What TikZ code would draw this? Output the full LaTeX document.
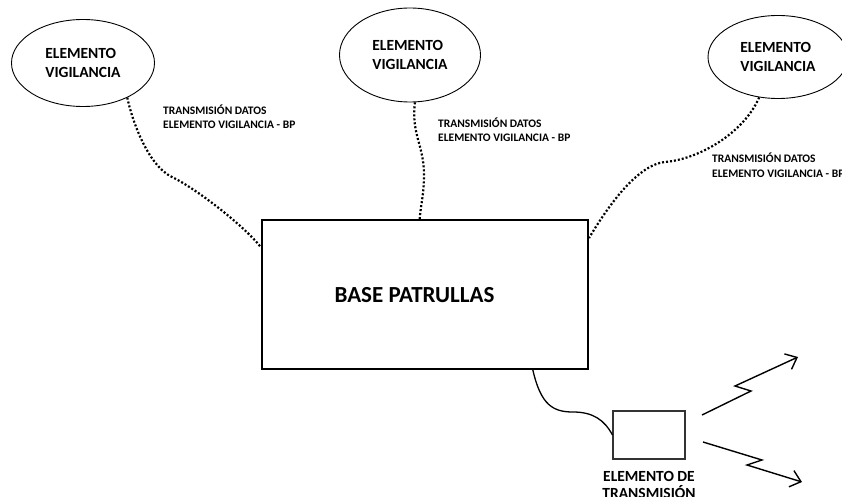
\documentclass[tikz,border=0pt]{standalone}
\usepackage{fontspec}
\setmainfont{Carlito}
\usetikzlibrary{shapes.geometric,arrows.meta,positioning}

\begin{document}
\begin{tikzpicture}[x=1pt,y=-1pt,
  vigilancia/.style={draw,ellipse,line width=0.9pt,inner sep=0pt,align=left,font=\bfseries\fontsize{15.5}{18.6}\selectfont},
  enlace/.style={line width=2.2pt,dash pattern=on 2pt off 2pt},
  rotulo/.style={inner sep=0pt,align=left,anchor=base west,font=\bfseries\fontsize{11.5}{14}\selectfont},
  radio/.style={line width=1.4pt,-{Straight Barb[length=10pt,width=17pt]}}]
\fill[white] (0,0) rectangle (842,497);
\useasboundingbox (0,0) rectangle (842,497);
\node[vigilancia,minimum width=143pt,minimum height=87pt] (e1) at (83,63) {ELEMENTO\\VIGILANCIA};
\node[vigilancia,minimum width=141pt,minimum height=94pt] (e2) at (410,55) {ELEMENTO\\VIGILANCIA};
\node[vigilancia,minimum width=140pt,minimum height=83pt] (e3) at (778,57) {ELEMENTO\\VIGILANCIA};
\node[draw,line width=2pt,minimum width=326pt,minimum height=149pt,inner sep=0pt] (bp) at (425,294.5) {};
\node[font=\bfseries\fontsize{23}{27}\selectfont,inner sep=0pt] (bptxt) at (414.5,295.5) {BASE PATRULLAS};
\node[draw=black!80,line width=1.1pt,minimum width=72pt,minimum height=48pt,inner sep=0pt] (tx) at (649,435) {};
\node[below=12pt of tx,inner sep=0pt,align=center,font=\bfseries\fontsize{15.5}{17}\selectfont] (txtxt) {ELEMENTO DE\\TRANSMISIÓN};
\node[rotulo] (r1) at (163,129) {TRANSMISIÓN DATOS\\ELEMENTO VIGILANCIA - BP};
\node[rotulo] (r2) at (438,142) {TRANSMISIÓN DATOS\\ELEMENTO VIGILANCIA - BP};
\node[rotulo] (r3) at (712,177) {TRANSMISIÓN DATOS\\ELEMENTO VIGILANCIA - BP};
\draw[enlace] (e1.-38) .. controls +(4,20) and +(-25,-12) .. (172,177) .. controls +(25,12) and +(-15,-20) .. (bp.164);
\draw[enlace] (e2.-84) .. controls +(-4,32) and +(0,-30) .. (424,175) .. controls +(0,20) and +(1,-15) .. (bp.94);
\draw[enlace] (e3.-115) .. controls +(-15,35) and +(35,-3) .. (665,162) .. controls +(-30,3) and +(15,-25) .. (bp.19);
\draw[line width=1.3pt] (bp.-35) .. controls +(8,35) and +(-20,0) .. (573,412) .. controls +(20,0) and +(-8,-15) .. (tx.west);
\coordinate (s1) at (702,415);
\coordinate (f1) at (798,357);
\coordinate (s2) at (703,442);
\coordinate (f2) at (802,482);
\draw[radio] (s1) -- (751,391) -- (735,386) -- (f1);
\draw[radio] (s2) -- (762,460) -- (747,465) -- (f2);
\end{tikzpicture}
\end{document}
